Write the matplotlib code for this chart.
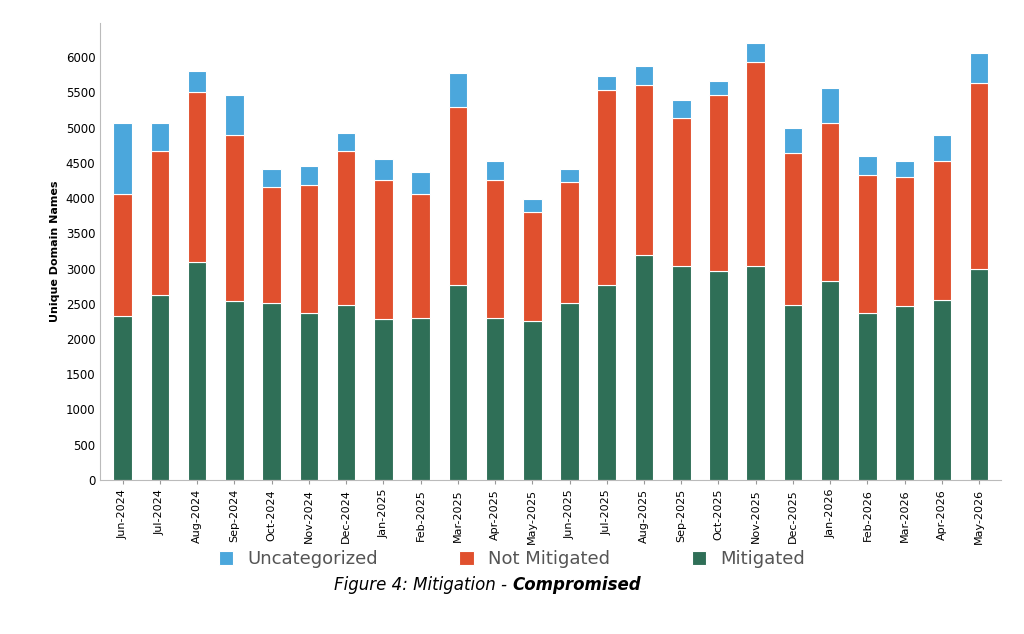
import numpy as np
import matplotlib.pyplot as plt

months = ["Jun-2024", "Jul-2024", "Aug-2024", "Sep-2024", "Oct-2024", "Nov-2024", "Dec-2024",
          "Jan-2025", "Feb-2025", "Mar-2025", "Apr-2025", "May-2025", "Jun-2025", "Jul-2025",
          "Aug-2025", "Sep-2025", "Oct-2025", "Nov-2025", "Dec-2025", "Jan-2026", "Feb-2026",
          "Mar-2026", "Apr-2026", "May-2026"]
# cumulative tops
mitigated = [2330, 2630, 3090, 2540, 2510, 2370, 2490, 2290, 2300, 2770, 2300, 2260, 2510, 2770,
             3190, 3040, 2970, 3040, 2490, 2820, 2370, 2470, 2560, 2990]
top_not_mit = [4060, 4670, 5500, 4890, 4160, 4190, 4670, 4260, 4060, 5290, 4260, 3810, 4230, 5530,
               5600, 5140, 5460, 5930, 4640, 5060, 4330, 4300, 4530, 5640]
top_uncat = [5060, 5060, 5810, 5460, 4410, 4460, 4930, 4560, 4370, 5770, 4530, 3990, 4410, 5740,
             5870, 5400, 5670, 6200, 4990, 5560, 4600, 4530, 4890, 6060]

mitigated = np.array(mitigated)
not_mitigated = np.array(top_not_mit) - mitigated
uncategorized = np.array(top_uncat) - np.array(top_not_mit)

c_mit, c_not, c_unc = "#2f6f57", "#e0502e", "#4ba7dc"

fig = plt.figure(figsize=(10.24, 6.34), dpi=100)
ax = fig.add_axes([0.098, 0.243, 0.88, 0.72])
x = np.arange(len(months))
w = 0.5
ax.bar(x, mitigated, w, color=c_mit, edgecolor="white", linewidth=0.8, label="Mitigated")
ax.bar(x, not_mitigated, w, bottom=mitigated, color=c_not, edgecolor="white", linewidth=0.8, label="Not Mitigated")
ax.bar(x, uncategorized, w, bottom=mitigated + not_mitigated, color=c_unc, edgecolor="white", linewidth=0.8, label="Uncategorized")

ax.set_xlim(-0.6, len(months) - 0.4)
ax.set_ylim(0, 6480)
ax.set_yticks(range(0, 6001, 500))
ax.set_xticks(x)
ax.set_xticklabels(months, rotation=90, fontsize=8)
ax.tick_params(axis="y", labelsize=8.5, length=0)
ax.tick_params(axis="x", length=3, color="#999999")
ax.set_ylabel("Unique Domain Names", fontsize=8, fontweight="bold")
for s in ["top", "right"]:
    ax.spines[s].set_visible(False)
for s in ["left", "bottom"]:
    ax.spines[s].set_color("#bbbbbb")

h, l = ax.get_legend_handles_labels()
fig.legend(h[::-1], l[::-1], loc="center", bbox_to_anchor=(0.5, 0.118), ncol=3, frameon=False,
           fontsize=13, handlelength=0.8, handleheight=0.8, columnspacing=4.5,
           labelcolor="#555555")

fig.text(0.5, 0.077, "Figure 4: Mitigation - ", ha="right", va="center", fontsize=12, style="italic")
fig.text(0.5, 0.077, "Compromised", ha="left", va="center", fontsize=12, style="italic", fontweight="bold")

fig.savefig("out.png", dpi=100)
